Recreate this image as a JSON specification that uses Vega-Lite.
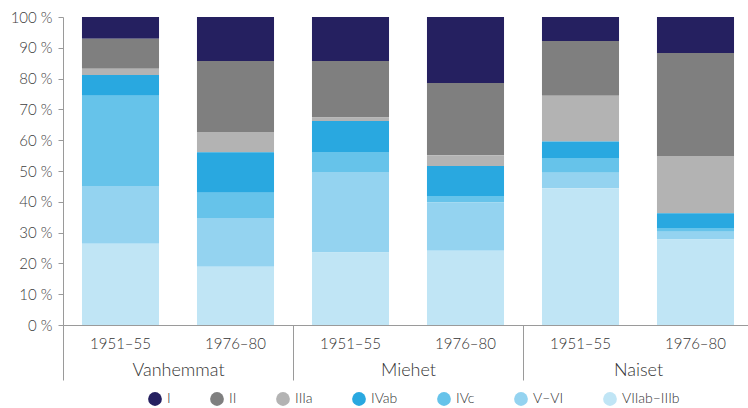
{
  "$schema": "https://vega.github.io/schema/vega-lite/v6.json",
  "width": 685,
  "height": 308,
  "autosize": {"type": "none"},
  "padding": {"left": 63, "top": 17, "right": 0, "bottom": 83},
  "config": {"view": {"stroke": null}, "font": "Lato", "axis": {"labelOverlap": false}},
  "data": {
    "values": [
      {"group": "Vanhemmat", "period": "1951–55", "cls": "I", "value": 7.1},
      {"group": "Vanhemmat", "period": "1951–55", "cls": "II", "value": 9.7},
      {"group": "Vanhemmat", "period": "1951–55", "cls": "IIIa", "value": 2.0},
      {"group": "Vanhemmat", "period": "1951–55", "cls": "IVab", "value": 6.8},
      {"group": "Vanhemmat", "period": "1951–55", "cls": "IVc", "value": 29.3},
      {"group": "Vanhemmat", "period": "1951–55", "cls": "V–VI", "value": 18.7},
      {"group": "Vanhemmat", "period": "1951–55", "cls": "VIIab–IIIb", "value": 26.4},
      {"group": "Vanhemmat", "period": "1976–80", "cls": "I", "value": 14.3},
      {"group": "Vanhemmat", "period": "1976–80", "cls": "II", "value": 23.0},
      {"group": "Vanhemmat", "period": "1976–80", "cls": "IIIa", "value": 6.6},
      {"group": "Vanhemmat", "period": "1976–80", "cls": "IVab", "value": 13.2},
      {"group": "Vanhemmat", "period": "1976–80", "cls": "IVc", "value": 8.2},
      {"group": "Vanhemmat", "period": "1976–80", "cls": "V–VI", "value": 15.8},
      {"group": "Vanhemmat", "period": "1976–80", "cls": "VIIab–IIIb", "value": 18.9},
      {"group": "Miehet", "period": "1951–55", "cls": "I", "value": 14.3},
      {"group": "Miehet", "period": "1951–55", "cls": "II", "value": 18.3},
      {"group": "Miehet", "period": "1951–55", "cls": "IIIa", "value": 1.2},
      {"group": "Miehet", "period": "1951–55", "cls": "IVab", "value": 10.0},
      {"group": "Miehet", "period": "1951–55", "cls": "IVc", "value": 6.5},
      {"group": "Miehet", "period": "1951–55", "cls": "V–VI", "value": 26.2},
      {"group": "Miehet", "period": "1951–55", "cls": "VIIab–IIIb", "value": 23.5},
      {"group": "Miehet", "period": "1976–80", "cls": "I", "value": 21.4},
      {"group": "Miehet", "period": "1976–80", "cls": "II", "value": 23.5},
      {"group": "Miehet", "period": "1976–80", "cls": "IIIa", "value": 3.5},
      {"group": "Miehet", "period": "1976–80", "cls": "IVab", "value": 9.7},
      {"group": "Miehet", "period": "1976–80", "cls": "IVc", "value": 2.1},
      {"group": "Miehet", "period": "1976–80", "cls": "V–VI", "value": 15.7},
      {"group": "Miehet", "period": "1976–80", "cls": "VIIab–IIIb", "value": 24.1},
      {"group": "Naiset", "period": "1951–55", "cls": "I", "value": 7.8},
      {"group": "Naiset", "period": "1951–55", "cls": "II", "value": 17.8},
      {"group": "Naiset", "period": "1951–55", "cls": "IIIa", "value": 14.8},
      {"group": "Naiset", "period": "1951–55", "cls": "IVab", "value": 5.4},
      {"group": "Naiset", "period": "1951–55", "cls": "IVc", "value": 4.8},
      {"group": "Naiset", "period": "1951–55", "cls": "V–VI", "value": 5.0},
      {"group": "Naiset", "period": "1951–55", "cls": "VIIab–IIIb", "value": 44.4},
      {"group": "Naiset", "period": "1976–80", "cls": "I", "value": 11.7},
      {"group": "Naiset", "period": "1976–80", "cls": "II", "value": 33.4},
      {"group": "Naiset", "period": "1976–80", "cls": "IIIa", "value": 18.6},
      {"group": "Naiset", "period": "1976–80", "cls": "IVab", "value": 4.8},
      {"group": "Naiset", "period": "1976–80", "cls": "IVc", "value": 1.2},
      {"group": "Naiset", "period": "1976–80", "cls": "V–VI", "value": 2.5},
      {"group": "Naiset", "period": "1976–80", "cls": "VIIab–IIIb", "value": 27.8}
    ]
  },
  "transform": [
    {"calculate": "indexof(['VIIab–IIIb','V–VI','IVc','IVab','IIIa','II','I'], datum.cls)", "as": "ord"}
  ],
  "encoding": {
    "x": {
      "field": "group",
      "type": "nominal",
      "sort": ["Vanhemmat", "Miehet", "Naiset"],
      "scale": {"range": [0, 690], "paddingInner": 0, "paddingOuter": 0},
      "axis": {
        "title": null,
        "domain": true,
        "domainColor": "#9a9a9a",
        "ticks": true,
        "tickBand": "extent",
        "tickSize": 55,
        "tickColor": "#9a9a9a",
        "labelPadding": -19,
        "labelFontSize": 18,
        "labelFontWeight": 300,
        "labelColor": "#333333",
        "labelAngle": 0,
        "labelBaseline": "top"
      }
    },
    "xOffset": {
      "field": "period",
      "type": "nominal",
      "scale": {"paddingInner": 0.33, "paddingOuter": 0.165}
    }
  },
  "layer": [
    {
      "mark": {"type": "bar"},
      "encoding": {
        "y": {
          "field": "value",
          "type": "quantitative",
          "stack": "normalize",
          "scale": {"domain": [0, 1]},
          "axis": {
            "title": null,
            "values": [0, 0.1, 0.2, 0.3, 0.4, 0.5, 0.6, 0.7, 0.8, 0.9, 1],
            "format": ".0%",
            "labelExpr": "replace(datum.label, '%', ' %')",
            "labelOverlap": false,
            "grid": false,
            "domain": true,
            "domainColor": "#9a9a9a",
            "tickColor": "#9a9a9a",
            "tickSize": 5,
            "labelPadding": 6,
            "labelFontSize": 15,
            "labelFontWeight": 300,
            "labelColor": "#404040"
          }
        },
        "color": {
          "field": "cls",
          "type": "nominal",
          "scale": {
            "domain": ["I", "II", "IIIa", "IVab", "IVc", "V–VI", "VIIab–IIIb"],
            "range": ["#252060", "#7f7f7f", "#b3b3b3", "#29a8e0", "#66c3ea", "#94d3f0", "#c0e5f5"]
          },
          "legend": {
            "orient": "none",
            "legendX": 85,
            "legendY": 375,
            "direction": "horizontal",
            "title": null,
            "symbolType": "circle",
            "symbolSize": 190,
            "symbolStrokeWidth": 0,
            "labelFontSize": 14,
            "labelFontWeight": 300,
            "labelColor": "#333333",
            "columnPadding": 39,
            "labelOffset": 5
          }
        },
        "order": {"field": "ord", "type": "quantitative"}
      }
    },
    {
      "transform": [{"filter": "datum.cls === 'I'"}],
      "mark": {"type": "text", "dy": 19, "fontSize": 15, "fontWeight": 300, "color": "#333333", "baseline": "middle"},
      "encoding": {
        "y": {
          "datum": 0,
          "type": "quantitative",
          "axis": {
            "title": null,
            "values": [0, 0.1, 0.2, 0.3, 0.4, 0.5, 0.6, 0.7, 0.8, 0.9, 1],
            "format": ".0%",
            "labelExpr": "replace(datum.label, '%', ' %')",
            "labelOverlap": false,
            "grid": false,
            "domain": true,
            "domainColor": "#9a9a9a",
            "tickColor": "#9a9a9a",
            "tickSize": 5,
            "labelPadding": 6,
            "labelFontSize": 15,
            "labelFontWeight": 300,
            "labelColor": "#404040"
          }
        },
        "text": {"field": "period", "type": "nominal"}
      }
    }
  ]
}
